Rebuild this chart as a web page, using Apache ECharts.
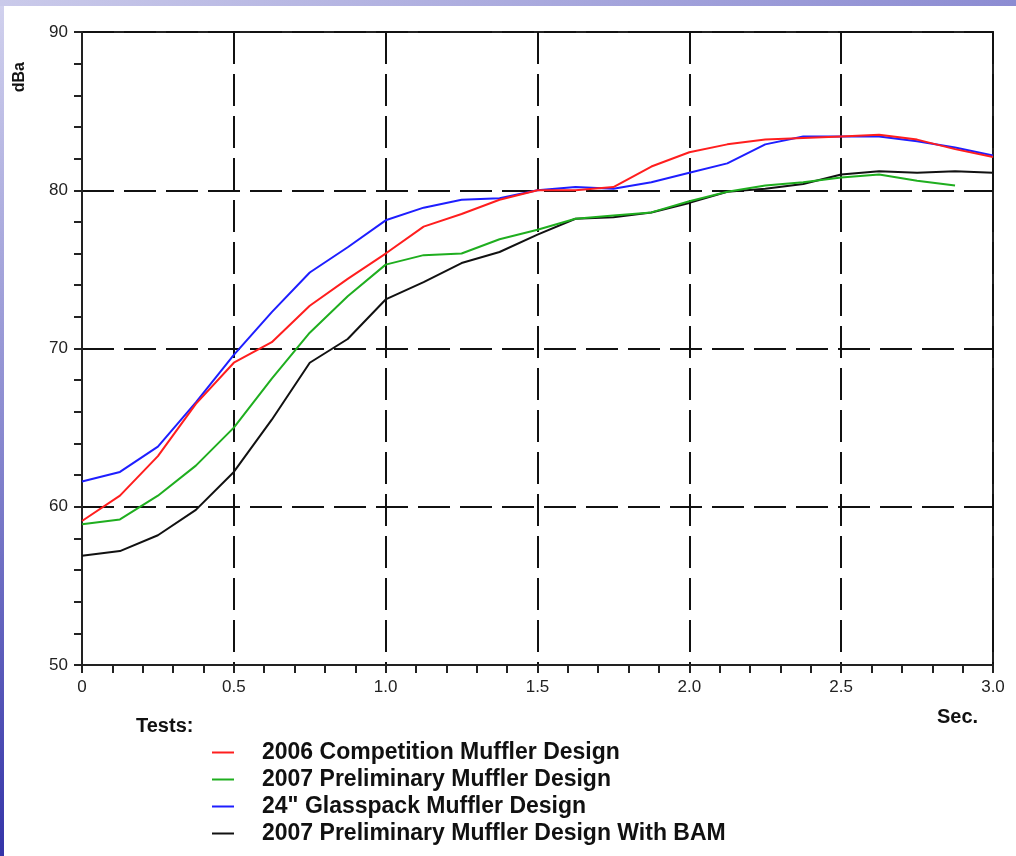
<!DOCTYPE html>
<html>
<head>
<meta charset="utf-8">
<script src="https://cdn.jsdelivr.net/npm/echarts@6/dist/echarts.min.js"></script>
<style>
  html, body { margin: 0; padding: 0; background: #fff; }
  #main { width: 1016px; height: 856px; }
</style>
</head>
<body>
<div id="main"></div>
<script>
// time in seconds (one sample every 1/8 s)
var times = [0, 0.125, 0.25, 0.375, 0.5, 0.625, 0.75, 0.875, 1.0, 1.125, 1.25, 1.375,
  1.5, 1.625, 1.75, 1.875, 2.0, 2.125, 2.25, 2.375, 2.5, 2.625, 2.75, 2.875, 3.0];

// dBa readings
var competition2006 = [59.1, 60.7, 63.2, 66.5, 69.1, 70.4, 72.7, 74.4, 76.0, 77.7, 78.5, 79.4,
  80.0, 80.0, 80.2, 81.5, 82.4, 82.9, 83.2, 83.3, 83.4, 83.5, 83.2, 82.6, 82.1];
var preliminary2007 = [58.9, 59.2, 60.7, 62.6, 65.0, 68.1, 71.0, 73.3, 75.3, 75.9, 76.0, 76.9,
  77.5, 78.2, 78.4, 78.6, 79.3, 79.9, 80.3, 80.5, 80.8, 81.0, 80.6, 80.3];
var glasspack24 = [61.6, 62.2, 63.8, 66.6, 69.6, 72.3, 74.8, 76.4, 78.1, 78.9, 79.4, 79.5,
  80.0, 80.2, 80.1, 80.5, 81.1, 81.7, 82.9, 83.4, 83.4, 83.4, 83.1, 82.7, 82.2];
var preliminaryBam = [56.9, 57.2, 58.2, 59.8, 62.2, 65.5, 69.1, 70.6, 73.1, 74.2, 75.4, 76.1,
  77.2, 78.2, 78.3, 78.6, 79.2, 79.9, 80.1, 80.4, 81.0, 81.2, 81.1, 81.2, 81.1];

var seriesNames = [
  '2006 Competition Muffler Design',
  '2007 Preliminary Muffler Design',
  '24" Glasspack Muffler Design',
  '2007 Preliminary Muffler Design With BAM'
];
var seriesColors = ['#ff1e1e', '#1fae1f', '#1e1eff', '#111111'];
var seriesValues = [competition2006, preliminary2007, glasspack24, preliminaryBam];

var yTicks = { min: 50, max: 90, step: 10 };
var xTicks = { min: 0, max: 3, step: 0.5 };

function pairs(vals) {
  var out = [];
  for (var i = 0; i < vals.length; i++) out.push([times[i], vals[i]]);
  return out;
}

var series = [];
for (var s = 0; s < seriesNames.length; s++) {
  series.push({
    name: seriesNames[s],
    type: 'line',
    data: pairs(seriesValues[s]),
    showSymbol: false,
    symbol: 'none',
    smooth: false,
    color: seriesColors[s],
    lineStyle: { width: 2, color: seriesColors[s] },
    z: 10 + (seriesNames.length - s)
  });
}

var chart = echarts.init(document.getElementById('main'), null, { renderer: 'canvas' });

var axisFont = 'Liberation Sans, Arial, sans-serif';

chart.setOption({
  backgroundColor: '#ffffff',
  animation: false,
  graphic: [
    // slide frame: blue strip on the left and on top
    {
      type: 'rect', left: 0, top: 0, z: 100,
      shape: { width: 4, height: 856 },
      style: { fill: new echarts.graphic.LinearGradient(0, 0, 0, 1, [
        { offset: 0, color: '#d2d2ee' }, { offset: 0.5, color: '#8a8ad0' }, { offset: 1, color: '#3434a8' }
      ]) }
    },
    {
      type: 'rect', left: 0, top: 0, z: 100,
      shape: { width: 1016, height: 6 },
      style: { fill: new echarts.graphic.LinearGradient(0, 0, 1, 0, [
        { offset: 0, color: '#cacaea' }, { offset: 1, color: '#8c8cd2' }
      ]) }
    },
    {
      type: 'text', left: 12, top: 62, rotation: Math.PI / 2,
      style: { text: 'dBa', font: 'bold 16px ' + axisFont, fill: '#111' }
    },
    {
      type: 'text', left: 937, top: 707,
      style: { text: 'Sec.', font: 'bold 20px ' + axisFont, fill: '#111' }
    },
    {
      type: 'text', left: 136, top: 716,
      style: { text: 'Tests:', font: 'bold 20px ' + axisFont, fill: '#111' }
    }
  ],
  grid: {
    left: 82, right: 23, top: 32, bottom: 191,
    show: true, borderColor: '#222', borderWidth: 2, backgroundColor: 'transparent'
  },
  legend: {
    orient: 'vertical',
    left: 212, top: 739,
    padding: 0,
    height: 115,
    itemWidth: 22, itemHeight: 2, itemGap: 0,
    icon: 'rect',
    selectedMode: false,
    data: seriesNames,
    textStyle: {
      fontFamily: axisFont, fontWeight: 'bold', fontSize: 23,
      color: '#111', lineHeight: 27, padding: [0, 0, 0, 23]
    }
  },
  xAxis: {
    type: 'value',
    min: xTicks.min, max: xTicks.max, interval: xTicks.step,
    axisLine: { show: true, onZero: false, lineStyle: { color: '#222', width: 2 } },
    axisTick: { show: true, inside: false, length: 8, lineStyle: { color: '#222', width: 2 } },
    minorTick: { show: true, splitNumber: 5, length: 8, lineStyle: { color: '#222', width: 2 } },
    axisLabel: {
      margin: 14, color: '#222', fontFamily: axisFont, fontSize: 17,
      formatter: function (v) { return v === 0 ? '0' : v.toFixed(1); }
    },
    splitLine: { show: true, lineStyle: { color: '#111', width: 2, type: [32, 10] } }
  },
  yAxis: {
    type: 'value',
    min: yTicks.min, max: yTicks.max, interval: yTicks.step,
    axisLine: { show: true, onZero: false, lineStyle: { color: '#222', width: 2 } },
    axisTick: { show: true, inside: false, length: 8, lineStyle: { color: '#222', width: 2 } },
    minorTick: { show: true, splitNumber: 5, length: 8, lineStyle: { color: '#222', width: 2 } },
    axisLabel: { margin: 14, color: '#222', fontFamily: axisFont, fontSize: 17 },
    splitLine: { show: true, lineStyle: { color: '#111', width: 2, type: [32, 10] } }
  },
  series: series
});
</script>
</body>
</html>
